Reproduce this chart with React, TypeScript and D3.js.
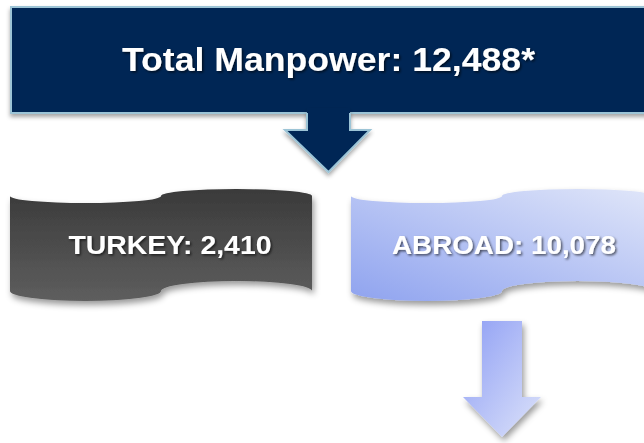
import React from "react";
import * as d3 from "d3";

const TITLE = "Total Manpower";
const TOTAL = 12488;
const categories = ["TURKEY", "ABROAD"];
const values = [2410, 10078];

const W = 644;
const H = 443;

function tapePath(x0: number, w: number, yT: number, yB: number, hT: number, hB: number) {
  const r = w / 4;
  const m = x0 + w / 2;
  const x1 = x0 + w;
  return [
    `M${x0},${yT}`,
    `A${r},${hT} 0 0 0 ${m},${yT}`,
    `A${r},${hT} 0 0 1 ${x1},${yT}`,
    `L${x1},${yB}`,
    `A${r},${hB} 0 0 0 ${m},${yB}`,
    `A${r},${hB} 0 0 1 ${x0},${yB}`,
    "Z",
  ].join(" ");
}

export default function App() {
  const fmt = d3.format(",");
  const x = d3.scaleBand<string>().domain(categories).range([10, 653]).paddingInner(0.1144).paddingOuter(0);
  const bw = x.bandwidth();
  const fills = ["url(#gTurkey)", "url(#gAbroad)"];
  const labelDx = [9, 2];
  const labelLen = [203, 224];

  const abroadCx = (x("ABROAD") as number) + bw / 2;
  const topCx = 328.5;

  // top arrow geometry
  const sL = 307, sR = 350, hY = 130, hL = 285, hR = 370, tipY = 172;
  const arrowFill = `M${sL},108 L${sL},${hY} L${hL},${hY} L${topCx},${tipY} L${hR},${hY} L${sR},${hY} L${sR},108 Z`;
  const arrowStroke = `M${sL},113 L${sL},${hY} L${hL},${hY} L${topCx},${tipY} L${hR},${hY} L${sR},${hY} L${sR},113`;

  // bottom arrow geometry
  const bsw = 20, bhw = 39, bTop = 321, bHead = 397, bTip = 437;
  const bArrow = `M${abroadCx - bsw},${bTop} L${abroadCx + bsw},${bTop} L${abroadCx + bsw},${bHead} L${abroadCx + bhw},${bHead} L${abroadCx},${bTip} L${abroadCx - bhw},${bHead} L${abroadCx - bsw},${bHead} Z`;

  return (
    <svg
      width={W}
      height={H}
      style={{ position: "absolute", left: 0, top: 0, background: "#ffffff" }}
      fontFamily="'Liberation Sans', Arial, sans-serif"
    >
      <defs>
        <linearGradient id="gTurkey" x1="0" y1="0" x2="0" y2="1">
          <stop offset="0" stopColor="#3a3a3a" />
          <stop offset="1" stopColor="#5e5e5e" />
        </linearGradient>
        <linearGradient id="gAbroad" x1="0" y1="1" x2="1" y2="0">
          <stop offset="0" stopColor="#8fa3ef" />
          <stop offset="1" stopColor="#e0e6f9" />
        </linearGradient>
        <linearGradient id="gDown" x1="0" y1="0" x2="1" y2="1">
          <stop offset="0" stopColor="#8e9ef4" />
          <stop offset="1" stopColor="#dde3fa" />
        </linearGradient>
        <filter id="boxShadow" x="-5%" y="-10%" width="110%" height="130%">
          <feDropShadow dx="0" dy="3" stdDeviation="2" floodColor="#000" floodOpacity="0.35" />
        </filter>
        <filter id="shapeShadow" x="-5%" y="-10%" width="115%" height="130%">
          <feDropShadow dx="2" dy="4" stdDeviation="3" floodColor="#000" floodOpacity="0.4" />
        </filter>
        <filter id="textShadow" x="-5%" y="-20%" width="110%" height="150%">
          <feDropShadow dx="1.5" dy="1.5" stdDeviation="1" floodColor="#000" floodOpacity="0.6" />
        </filter>
      </defs>

      {/* top box */}
      <rect x={11} y={7} width={W + 10} height={106} fill="#002855" stroke="#9cc4d6" strokeWidth={2} filter="url(#boxShadow)" />
      <text
        x={topCx}
        y={70.5}
        textAnchor="middle"
        fill="#ffffff"
        fontWeight="bold"
        fontSize={33}
        textLength={413}
        lengthAdjust="spacingAndGlyphs"
        filter="url(#textShadow)"
      >
        {`${TITLE}: ${fmt(TOTAL)}*`}
      </text>

      {/* top arrow */}
      <g filter="url(#boxShadow)">
        <path d={arrowFill} fill="#002855" />
        <path d={arrowStroke} fill="none" stroke="#9cc4d6" strokeWidth={2} strokeLinejoin="miter" />
      </g>

      {/* category shapes */}
      {categories.map((c, i) => {
        const x0 = x(c) as number;
        return (
          <g key={c}>
            <path d={tapePath(x0, bw, 196, 291, 7, 10)} fill={fills[i]} filter="url(#shapeShadow)" />
            <text
              x={x0 + bw / 2 + labelDx[i]}
              y={253.5}
              textAnchor="middle"
              fill="#ffffff"
              fontWeight="bold"
              fontSize={26}
              textLength={labelLen[i]}
              lengthAdjust="spacingAndGlyphs"
              filter="url(#textShadow)"
            >
              {`${c}: ${fmt(values[i])}`}
            </text>
          </g>
        );
      })}

      {/* bottom arrow */}
      <path d={bArrow} fill="url(#gDown)" filter="url(#shapeShadow)" />
    </svg>
  );
}
